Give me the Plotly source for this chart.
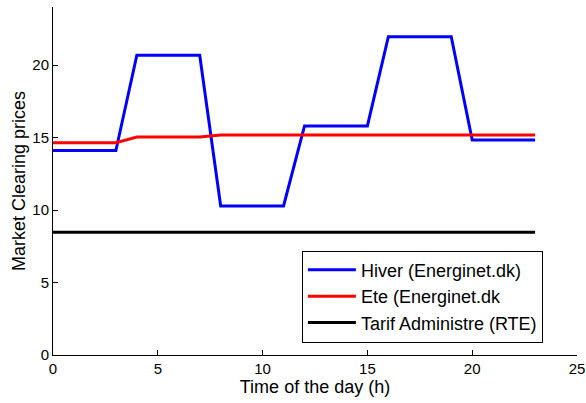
import plotly.graph_objects as go

hours = list(range(24))
hiver = [14.1]*4 + [20.67]*4 + [10.28]*4 + [15.8]*4 + [21.95]*4 + [14.83]*4
ete = [14.64]*4 + [15.03]*4 + [15.17]*16
tarif = [8.46]*24

fig = go.Figure()
fig.add_trace(go.Scatter(x=hours, y=hiver, mode="lines", name="Hiver (Energinet.dk)",
                         line=dict(color="#0000ff", width=3)))
fig.add_trace(go.Scatter(x=hours, y=ete, mode="lines", name="Ete (Energinet.dk",
                         line=dict(color="#ff0000", width=3)))
fig.add_trace(go.Scatter(x=hours, y=tarif, mode="lines", name="Tarif Administre (RTE)",
                         line=dict(color="#000000", width=3)))

font = "Liberation Sans, Arial, Helvetica, sans-serif"
fig.update_layout(
    width=586, height=403,
    margin=dict(l=53, r=9, t=7, b=48, autoexpand=False),
    paper_bgcolor="white", plot_bgcolor="white",
    font=dict(family=font, size=15, color="black"),
    showlegend=True,
    legend=dict(x=0.475, y=0.3, xanchor="left", yanchor="top",
                bordercolor="black", borderwidth=1, bgcolor="white",
                font=dict(size=18), tracegroupgap=0, itemwidth=48),
)
fig.update_xaxes(range=[0, 25], tickvals=[0, 5, 10, 15, 20, 25], automargin=False,
                 showgrid=False, zeroline=False, showline=True, linecolor="black",
                 linewidth=1, ticks="inside", ticklen=5, tickcolor="black",
                 title=dict(text="Time of the day (h)", font=dict(size=18), standoff=3),
                 tickfont=dict(size=15))
fig.update_yaxes(range=[0, 24], tickvals=[0, 5, 10, 15, 20], automargin=False,
                 showgrid=False, zeroline=False, showline=True, linecolor="black",
                 linewidth=1, ticks="inside", ticklen=5, tickcolor="black",
                 title=dict(text="Market Clearing prices", font=dict(size=18), standoff=2),
                 tickfont=dict(size=15))
fig.write_html("out.html", config={"displayModeBar": False},
               post_script="document.body.style.margin='0';"
                           "document.documentElement.style.overflow='hidden';"
                           "document.body.style.overflow='hidden';")
